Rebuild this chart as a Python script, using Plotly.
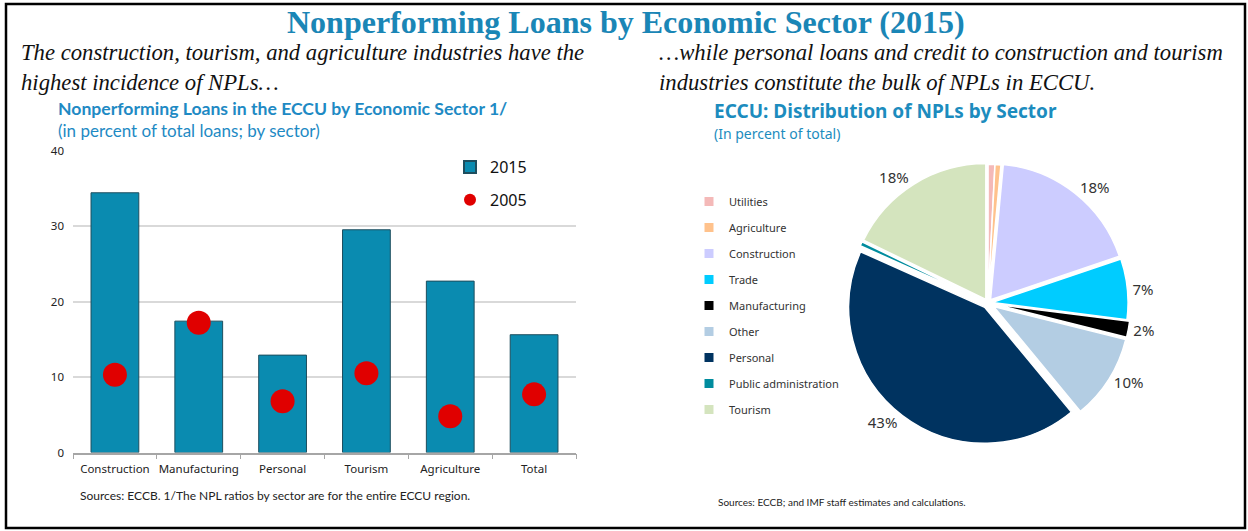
import plotly.graph_objects as go

W, H = 1248, 531

# --- Bar chart data: NPL ratio by sector (percent of total loans) ---
sectors = ["Construction", "Manufacturing", "Personal", "Tourism", "Agriculture", "Total"]
npl_2015 = [34.4, 17.4, 12.9, 29.5, 22.7, 15.6]
npl_2005 = [10.3, 17.2, 6.8, 10.5, 4.8, 7.7]
y_ticks = [0, 10, 20, 30, 40]

# --- Pie chart data: distribution of NPLs by sector (percent of total) ---
pie_labels = ["Utilities", "Agriculture", "Construction", "Trade", "Manufacturing",
              "Other", "Personal", "Public administration", "Tourism"]
pie_values = [0.8, 0.7, 18.3, 7.2, 1.9, 10.1, 42.7, 0.5, 17.8]
pie_colors = ["#F4B9B8", "#FFC28C", "#CCCCFF", "#00CCFF", "#000000",
              "#B3CDE3", "#003360", "#008C9E", "#D4E4BE"]
pie_pull = [0.02, 0.02, 0.03, 0.03, 0.05, 0.05, 0.04, 0.03, 0.03]
pie_show_pct = [False, False, True, True, True, True, True, False, True]


def px(x):
    return x / W


def py(y):
    return 1 - y / H


BAR_COLOR = "#0A8BB0"
TITLE_BLUE = "#1A86B6"
CHART_BLUE = "#1E8AC4"

fig = go.Figure()

fig.add_trace(go.Bar(
    x=sectors, y=npl_2015, name="2015", width=0.57,
    marker=dict(color=BAR_COLOR, line=dict(color="#1E4E5E", width=1)),
    legend="legend", legendgroup="g2015",
))
fig.add_trace(go.Scatter(
    x=sectors, y=npl_2005, name="2005", mode="markers",
    marker=dict(color="#E00000", size=24, line=dict(width=0)),
    legend="legend", legendgroup="g2005",
))

# Pie of NPL distribution
pie_r = 136
max_pull = max(pie_pull)
half = pie_r * (1 + max_pull)
cx, cy = 988, 303
fig.add_trace(go.Pie(
    labels=pie_labels, values=pie_values, sort=False, direction="clockwise",
    rotation=0, pull=pie_pull, showlegend=False,
    marker=dict(colors=pie_colors, line=dict(color="white", width=1.5)),
    texttemplate=["%{percent:.0%}" if s else "" for s in pie_show_pct],
    textposition="outside", textfont=dict(family="Noto Sans", size=15, color="#333333"),
    domain=dict(x=[px(cx - half), px(cx + half)], y=[py(cy + half), py(cy - half)]),
    hoverinfo="label+percent",
))

# Legend entries for the pie, one group per sector so they can be spaced out
for lab, col in zip(pie_labels, pie_colors):
    fig.add_trace(go.Scatter(
        x=[None], y=[None], mode="markers", name=lab,
        marker=dict(symbol="square", size=9, color=col),
        legend="legend2", legendgroup="p_" + lab, showlegend=True,
    ))

fig.update_layout(
    width=W, height=H,
    margin=dict(l=0, r=0, t=0, b=0, autoexpand=False),
    paper_bgcolor="white", plot_bgcolor="white",
    barmode="overlay",
    xaxis=dict(
        domain=[px(73), px(576)], type="category", automargin=False,
        showline=True, linecolor="#A6A6A6", linewidth=1.5, tickangle=0,
        ticks="outside", tickson="boundaries", ticklen=5, tickcolor="#A6A6A6",
        ticklabelstandoff=5,
        tickfont=dict(family="Noto Sans", size=11.5, color="#222222"),
        showgrid=False, fixedrange=True,
    ),
    yaxis=dict(
        domain=[py(452.5), py(150.5)], range=[0, 40], tickvals=y_ticks,
        automargin=False,
        showgrid=True, gridcolor="#D9D9D9", gridwidth=1.5, zeroline=False,
        showline=False, ticks="", ticklabelstandoff=8,
        tickfont=dict(family="Noto Sans", size=11.5, color="#222222"),
        fixedrange=True,
    ),
    legend=dict(
        x=px(450), y=py(150), xanchor="left", yanchor="top",
        font=dict(family="Noto Sans", size=16, color="#111111"),
        bgcolor="rgba(0,0,0,0)", tracegroupgap=9, traceorder="grouped",
        itemsizing="constant",
    ),
    legend2=dict(
        x=px(689), y=py(187), xanchor="left", yanchor="top",
        font=dict(family="Noto Sans", size=11, color="#333333"),
        bgcolor="rgba(0,0,0,0)", tracegroupgap=7, traceorder="grouped",
    ),
    showlegend=True,
)

annotations = [
    dict(text="<b>Nonperforming Loans by Economic Sector (2015)</b>",
         x=px(626), y=py(22), xanchor="center", yanchor="middle",
         font=dict(family="Liberation Serif", size=32, color=TITLE_BLUE)),
    dict(text="<i>The construction, tourism, and agriculture industries have the<br>highest incidence of NPLs…</i>",
         x=px(19), y=py(67.5), xanchor="left", yanchor="middle", align="left",
         font=dict(family="Liberation Serif", size=22.7, color="#111111")),
    dict(text="<i>…while personal loans and credit to construction and tourism<br>industries constitute the bulk of NPLs in ECCU.</i>",
         x=px(657), y=py(67.5), xanchor="left", yanchor="middle", align="left",
         font=dict(family="Liberation Serif", size=22.7, color="#111111")),
    dict(text="<b>Nonperforming Loans in the ECCU by Economic Sector 1/</b>",
         x=px(56), y=py(108), xanchor="left", yanchor="middle",
         font=dict(family="Lato", size=17.6, color=CHART_BLUE)),
    dict(text="(in percent of total loans; by sector)",
         x=px(56), y=py(130), xanchor="left", yanchor="middle",
         font=dict(family="Lato", size=17, color=CHART_BLUE)),
    dict(text="<b>ECCU: Distribution of NPLs by Sector</b>",
         x=px(712), y=py(111), xanchor="left", yanchor="middle",
         font=dict(family="Noto Sans", size=19, color="#1C8CBE")),
    dict(text="(In percent of total)",
         x=px(712), y=py(134), xanchor="left", yanchor="middle",
         font=dict(family="Noto Sans", size=14, color="#1C8CBE")),
    dict(text="Sources: ECCB. 1/The NPL ratios by sector are for the entire ECCU region.",
         x=px(78), y=py(495), xanchor="left", yanchor="middle",
         font=dict(family="Lato", size=12, color="#222222")),
    dict(text="Sources: ECCB; and IMF staff estimates and calculations.",
         x=px(716), y=py(502), xanchor="left", yanchor="middle",
         font=dict(family="Lato", size=10, color="#222222")),
]
for a in annotations:
    a.update(xref="paper", yref="paper", showarrow=False)
fig.update_layout(annotations=annotations)

# Outer frame
fig.add_shape(type="rect", xref="paper", yref="paper",
              x0=px(6), x1=px(1245), y0=py(528), y1=py(4),
              line=dict(color="black", width=2.5), fillcolor="rgba(0,0,0,0)")

fig.write_html("out.html")
